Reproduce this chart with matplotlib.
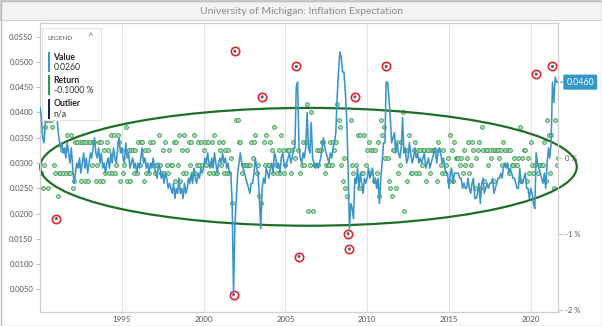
import numpy as np
import pandas as pd
import matplotlib
matplotlib.use("Agg")
import matplotlib.pyplot as plt
import matplotlib.dates as mdates
from matplotlib.patches import Ellipse, Rectangle

plt.rcParams['font.family'] = ['Lato', 'DejaVu Sans']

TITLE = 'University of Michigan: Inflation Expectation'
START = '1990-01-01'

# median expected price change over the next 12 months, percent, monthly
expectation = [
    4.1, 3.9, 3.5, 3.4, 3.8, 4.3, 3.9, 4.4, 4.9, 5.3, 5.2, 5.0,   # 1990
    4.2, 3.7, 3.5, 3.3, 3.4, 3.2, 3.3, 3.1, 3.4, 3.2, 3.0, 3.3,   # 1991
    2.9, 2.6, 2.8, 3.0, 2.9, 3.1, 2.8, 3.0, 3.2, 2.9, 3.1, 2.8,   # 1992
    3.0, 3.2, 3.1, 3.3, 3.5, 3.2, 3.1, 3.3, 3.0, 3.2, 2.9, 3.0,   # 1993
    2.8, 3.0, 3.1, 2.9, 3.2, 3.0, 3.3, 3.1, 3.0, 3.3, 3.5, 3.2,   # 1994
    3.3, 3.1, 3.0, 3.4, 3.1, 3.2, 2.9, 3.0, 3.1, 2.9, 3.0, 2.8,   # 1995
    3.0, 2.9, 3.1, 3.3, 3.0, 3.1, 2.9, 3.0, 2.8, 3.0, 2.9, 3.1,   # 1996
    2.9, 2.8, 2.7, 3.0, 2.9, 2.7, 2.8, 2.6, 2.8, 2.7, 2.5, 2.6,   # 1997
    2.5, 2.4, 2.6, 2.3, 2.5, 2.4, 2.7, 2.4, 2.5, 2.3, 2.6, 2.4,   # 1998
    2.5, 2.7, 2.6, 2.8, 2.6, 2.9, 2.7, 2.6, 2.8, 2.7, 2.9, 2.8,   # 1999
    2.9, 3.1, 3.0, 3.2, 3.0, 2.9, 3.1, 2.9, 3.2, 3.0, 2.8, 3.0,   # 2000
    3.1, 3.0, 3.2, 3.0, 3.1, 2.9, 3.0, 2.8, 2.8, 2.2, 0.4, 1.8,   # 2001
    2.3, 2.8, 3.0, 3.2, 3.0, 2.9, 2.8, 2.7, 2.6, 2.5, 2.4, 2.6,   # 2002
    2.6, 2.8, 3.1, 2.9, 2.8, 2.3, 1.7, 2.5, 2.7, 2.6, 2.9, 2.8,   # 2003
    2.7, 2.9, 3.0, 2.8, 3.2, 3.1, 2.9, 3.0, 2.8, 3.1, 3.2, 3.0,   # 2004
    2.9, 3.0, 3.1, 3.2, 3.0, 3.1, 3.3, 3.3, 4.5, 4.6, 3.3, 3.1,   # 2005
    3.0, 3.2, 3.1, 3.3, 4.0, 3.3, 3.2, 3.8, 3.1, 3.0, 2.9, 3.0,   # 2006
    2.9, 3.0, 3.1, 3.3, 3.5, 3.3, 3.2, 3.1, 3.0, 3.2, 3.1, 3.3,   # 2007
    3.4, 3.6, 4.3, 4.8, 5.2, 5.1, 4.8, 4.8, 4.4, 3.9, 2.9, 1.7,   # 2008
    2.2, 2.1, 1.9, 2.7, 2.6, 2.9, 2.5, 2.8, 2.6, 2.4, 2.7, 2.6,   # 2009
    2.7, 2.9, 2.7, 2.8, 2.9, 2.6, 2.7, 2.5, 2.7, 2.2, 2.7, 3.0,   # 2010
    3.4, 3.4, 4.6, 4.6, 4.3, 3.9, 3.4, 3.5, 3.6, 3.2, 3.4, 3.2,   # 2011
    3.1, 3.3, 3.9, 3.2, 3.3, 3.0, 3.1, 3.4, 3.2, 3.0, 3.1, 3.3,   # 2012
    3.1, 3.2, 3.0, 3.1, 3.0, 3.1, 3.2, 2.9, 3.0, 3.1, 2.9, 3.0,   # 2013
    3.1, 3.2, 3.3, 3.0, 3.2, 3.3, 3.2, 3.0, 3.1, 2.9, 2.8, 2.8,   # 2014
    2.5, 2.8, 2.9, 2.6, 2.8, 2.8, 2.8, 2.8, 2.7, 2.7, 2.5, 2.6,   # 2015
    2.5, 2.5, 2.7, 2.5, 2.4, 2.6, 2.7, 2.3, 2.3, 2.4, 2.6, 2.2,   # 2016
    2.6, 2.7, 2.4, 2.5, 2.6, 2.5, 2.6, 2.6, 2.7, 2.4, 2.5, 2.6,   # 2017
    2.7, 2.7, 2.8, 2.7, 2.9, 3.0, 2.9, 3.0, 2.8, 2.9, 2.8, 2.7,   # 2018
    2.7, 2.6, 2.5, 2.5, 2.9, 2.6, 2.6, 2.7, 2.8, 2.5, 2.5, 2.3,   # 2019
    2.5, 2.4, 2.2, 2.1, 3.2, 3.0, 2.9, 2.8, 2.7, 2.6, 2.8, 2.5,   # 2020
    3.0, 3.3, 3.1, 3.4, 4.6, 4.2, 4.7, 4.6, 4.6,                  # 2021
]

# monthly change (pct points) beyond this is flagged as an outlier
OUTLIER_LIMIT = 0.75

# fitted band around the returns: centre date, centre return, span in years, height in %
BAND_CENTER = ('2006-06-01', -0.12)
BAND_YEARS = 32.8
BAND_HEIGHT = 1.55

YEAR_TICKS = [1995, 2000, 2005, 2010, 2015, 2020]
LEFT_TICKS = [0.005, 0.010, 0.015, 0.020, 0.025, 0.030, 0.035, 0.040, 0.045, 0.050, 0.055]
RIGHT_TICKS = [0, -1, -2]

legend_items = [
    ('Value', '0.0260', '#3a96c8'),
    ('Return', '-0.1000 %', '#2e9a4e'),
    ('Outlier', 'n/a', '#1b2747'),
]

LINE_COLOR = '#3a96c8'
TEXT_COLOR = '#555555'
W, H = 602, 326

dates = pd.date_range(START, periods=len(expectation), freq='MS')
value = np.array(expectation) / 100.0
returns = np.diff(np.array(expectation))
ret_dates = dates[1:]
is_out = np.abs(returns) > OUTLIER_LIMIT

fig = plt.figure(figsize=(W / 100, H / 100), dpi=100)
fig.patch.set_facecolor('white')

# title bar and outer frame
fig.add_artist(Rectangle((0, 1 - 20 / H), 1, 20 / H, transform=fig.transFigure,
                         facecolor='#f3f3f3', edgecolor='#cfcfcf', lw=0.8, zorder=0))
fig.add_artist(Rectangle((0.5 / W, 0.5 / H), 1 - 1 / W, 1 - 1 / H, transform=fig.transFigure,
                         fill=False, edgecolor='#bdbdbd', lw=1.0, zorder=20))
fig.text(0.5, 1 - 11 / H, TITLE, ha='center', va='center', fontsize=7.5, color='#8c8c8c')

ax2 = fig.add_axes([40 / W, 1 - 311.7 / H, 518 / W, (311.7 - 23) / H])
ax = ax2.twinx()
ax.yaxis.tick_left()
ax.yaxis.set_label_position('left')
ax2.yaxis.tick_right()
ax2.patch.set_visible(True)
ax2.patch.set_facecolor('white')
ax.patch.set_visible(False)

# returns on the right scale
ax2.scatter(ret_dates[~is_out], returns[~is_out], s=8, facecolor='#a9d9b1',
            edgecolor='#45a060', linewidth=0.6, zorder=3)
ax2.scatter(ret_dates[is_out], returns[is_out], s=36, facecolor='white',
            edgecolor='#e3262a', linewidth=1.2, zorder=4)
ax2.scatter(ret_dates[is_out], returns[is_out], s=5, facecolor='#56607f',
            edgecolor='none', zorder=5)

cx = mdates.date2num(pd.Timestamp(BAND_CENTER[0]))
band = Ellipse((cx, BAND_CENTER[1]), BAND_YEARS * 365.25, BAND_HEIGHT,
               fill=False, edgecolor='#1f6e27', lw=1.6, zorder=6, clip_on=False)
ax2.add_patch(band)

# expectation line on the left scale
ax.plot(dates, value, color=LINE_COLOR, lw=1.15, zorder=3)

ax.set_xlim(dates[0], dates[-1])
ax.set_ylim(0.0006, 0.0577)
ax2.set_ylim(-2.026, 1.772)

ax.set_yticks(LEFT_TICKS)
ax.set_yticklabels(['%.4f' % t for t in LEFT_TICKS])
ax2.set_yticks(RIGHT_TICKS)
ax2.set_yticklabels(['%d %%' % t if t else '0 %' for t in RIGHT_TICKS])

ax2.set_xticks([pd.Timestamp('%d-01-01' % y) for y in YEAR_TICKS])
ax2.set_xticklabels([str(y) for y in YEAR_TICKS])
ax2.grid(axis='x', color='#e2e2e2', lw=0.8)
ax2.set_axisbelow(True)

for a in (ax, ax2):
    for side in a.spines:
        a.spines[side].set_color('#cfcfcf')
        a.spines[side].set_linewidth(0.8)
ax2.spines['left'].set_color('#bdbdbd')
ax2.spines['bottom'].set_color('#bdbdbd')

ax.tick_params(axis='y', labelsize=5.5, colors='#bdbdbd', labelcolor=TEXT_COLOR,
               length=3, width=0.7, pad=2)
ax2.tick_params(axis='y', labelsize=5.5, colors='#bdbdbd', labelcolor=TEXT_COLOR,
                length=3, width=0.7, pad=2)
ax2.tick_params(axis='x', labelsize=5.8, labelcolor=TEXT_COLOR, length=0, pad=3)

# last value tag on the right edge
ax.annotate('%.4f' % value[-1], xy=(1, value[-1]), xycoords=('axes fraction', 'data'),
            xytext=(6, 0), textcoords='offset points', ha='left', va='center',
            fontsize=6.3, color='white', annotation_clip=False,
            bbox=dict(boxstyle='round,pad=0.35,rounding_size=0.15', facecolor='#3597c8',
                      edgecolor='none'))
ax.annotate('', xy=(1, value[-1]), xycoords=('axes fraction', 'data'),
            xytext=(5, 0), textcoords='offset points', annotation_clip=False,
            arrowprops=dict(arrowstyle='-', color='#3597c8', lw=1.0))

# legend panel
lx, ly, lw_, lh = 42, 28, 59, 92
fig.add_artist(Rectangle((lx / W, 1 - (ly + lh) / H), lw_ / W, lh / H,
                         transform=fig.transFigure, facecolor='white',
                         edgecolor='#e3e3e3', lw=0.8, zorder=10))
fig.text(47.5 / W, 1 - 38 / H, 'LEGEND', fontsize=4.6, color='#555555',
         va='center', ha='left', zorder=11)
fig.text(90 / W, 1 - 37 / H, '^', fontsize=7, color='#777777', va='center', ha='center',
         zorder=11)
for i, (name, val, col) in enumerate(legend_items):
    top = 52 + i * 23.3
    fig.add_artist(Rectangle((48 / W, 1 - (top + 20) / H), 2 / W, 20 / H,
                             transform=fig.transFigure, facecolor=col,
                             edgecolor='none', zorder=11))
    fig.text(53.5 / W, 1 - (top + 5) / H, name, fontsize=6.2, fontweight='bold',
             color='#222222', va='center', ha='left', zorder=11)
    fig.text(53.5 / W, 1 - (top + 15) / H, val, fontsize=6.2, color='#333333',
             va='center', ha='left', zorder=11)

fig.savefig('out.png', dpi=100)
